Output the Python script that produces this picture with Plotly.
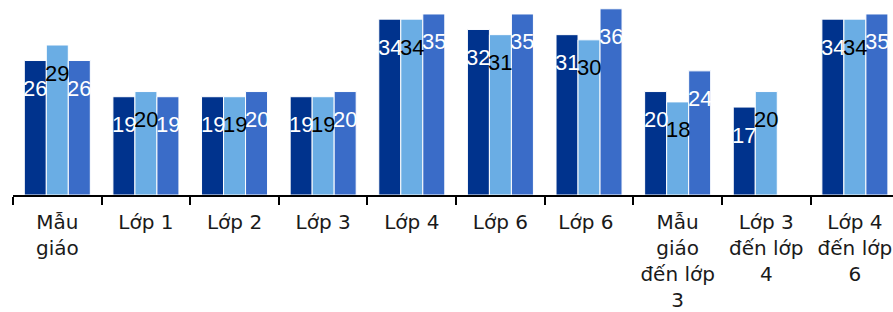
import plotly.graph_objects as go

categories = ["Mẫu<br>giáo", "Lớp 1", "Lớp 2", "Lớp 3", "Lớp 4", "Lớp 6", "Lớp 6 ",
              "Mẫu<br>giáo<br>đến lớp<br>3", "Lớp 3<br>đến lớp<br>4", "Lớp 4<br>đến lớp<br>6"]
series_a = [26, 19, 19, 19, 34, 32, 31, 20, 17, 34]
series_b = [29, 20, 19, 19, 34, 31, 30, 18, 20, 34]
series_c = [26, 19, 20, 20, 35, 35, 36, 24, None, 35]

colors = ["#00338D", "#6AADE4", "#3A6CC8"]
label_colors = ["white", "black", "white"]
all_series = [series_a, series_b, series_c]

bargap = 0.255
fig = go.Figure()
for s, c in zip(all_series, colors):
    fig.add_trace(go.Bar(x=categories, y=s, marker=dict(color=c, line=dict(color="white", width=1)),
                         showlegend=False, hoverinfo="skip"))

bw = (1 - bargap) / 3
annotations = []
for si, (s, lc) in enumerate(zip(all_series, label_colors)):
    for i, v in enumerate(s):
        if v is None:
            continue
        annotations.append(dict(x=i + (si - 1) * bw, y=v, xref="x", yref="y", text=str(v),
                                showarrow=False, yanchor="middle", xanchor="center", yshift=-28,
                                font=dict(family="Liberation Sans", size=22, color=lc)))

fig.update_layout(
    width=893, height=312,
    margin=dict(l=13, r=0, t=0, b=117, autoexpand=False),
    paper_bgcolor="white", plot_bgcolor="white",
    barmode="group", bargap=bargap, bargroupgap=0,
    annotations=annotations,
    xaxis=dict(type="category", range=[-0.5, 9.43], showline=True, linecolor="black", linewidth=2,
               ticks="outside", tickson="boundaries", ticklen=8, tickcolor="black", tickwidth=2,
               tickfont=dict(family="DejaVu Sans", size=20, color="#1a1a1a"), showgrid=False,
               tickangle=0, automargin=False, ticklabelstandoff=8),
    yaxis=dict(range=[0, 37.7], visible=False, showgrid=False, zeroline=False, automargin=False),
)
fig.write_html("out.html", config={"displayModeBar": False},
               post_script="document.body.style.margin='0';")
